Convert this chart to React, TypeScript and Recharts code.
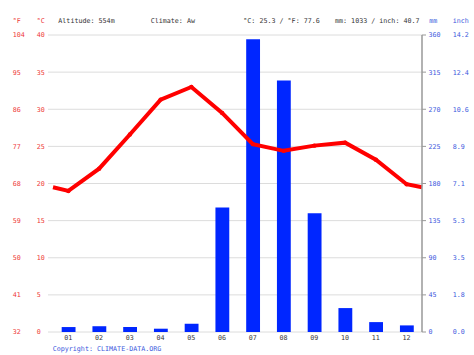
import React from 'react'
import { ComposedChart, Bar, Line, XAxis, YAxis, CartesianGrid } from 'recharts'

const MONTHS = ['01', '02', '03', '04', '05', '06', '07', '08', '09', '10', '11', '12']
const TEMP_C = [19.0, 22.0, 26.6, 31.3, 33.0, 29.5, 25.3, 24.4, 25.1, 25.5, 23.2, 19.9]
const PRECIP_MM = [6, 7, 6, 4, 10, 151, 355, 305, 144, 29, 12, 8]
// the curve runs on to both plot edges at this value
const EDGE_TEMP_C = 19.5

const C_TICKS = [0, 5, 10, 15, 20, 25, 30, 35, 40]
const F_LABELS = ['32', '41', '50', '59', '68', '77', '86', '95', '104']
const MM_TICKS = [0, 45, 90, 135, 180, 225, 270, 315, 360]
const INCH_LABELS = ['0.0', '1.8', '3.5', '5.3', '7.1', '8.9', '10.6', '12.4', '14.2']

const RED = '#ee3535'
const BLUE = '#3a58dd'
const FONT = "'DejaVu Sans Mono', monospace"
const FS = 6.7

const data = [
  { x: 0, temp: EDGE_TEMP_C },
  ...MONTHS.map((m, i) => ({ x: i + 0.5, month: m, temp: TEMP_C[i], precip: PRECIP_MM[i] })),
  { x: 12, temp: EDGE_TEMP_C },
]

function TempTick(props: any) {
  const { y, payload } = props
  const i = C_TICKS.indexOf(payload.value)
  return (
    <g fontFamily={FONT} fontSize={FS} fill={RED}>
      <text x={12.7} y={y} dy={2.4} textAnchor="start">{F_LABELS[i]}</text>
      <text x={36.7} y={y} dy={2.4} textAnchor="start">{payload.value}</text>
    </g>
  )
}

function PrecipTick(props: any) {
  const { y, payload } = props
  const i = MM_TICKS.indexOf(payload.value)
  return (
    <g fontFamily={FONT} fontSize={FS} fill={BLUE}>
      <text x={428.5} y={y} dy={2.4} textAnchor="start">{payload.value}</text>
      <text x={452.7} y={y} dy={2.4} textAnchor="start">{INCH_LABELS[i]}</text>
    </g>
  )
}

function TempDot(props: any) {
  const { cx, cy, payload, index } = props
  if (!payload.month) return <g key={index} />
  return <circle key={index} cx={cx} cy={cy} r={2.2} fill="#ff0000" />
}

const label = (left: number, text: string, color = '#333') => (
  <div
    style={{
      position: 'absolute',
      left,
      top: 16.5,
      fontFamily: FONT,
      fontSize: FS,
      color,
      whiteSpace: 'pre',
      lineHeight: '8px',
    }}
  >
    {text}
  </div>
)

export default function App() {
  return (
    <div style={{ position: 'absolute', left: 0, top: 0, width: 474, height: 355, background: '#fff' }}>
      <ComposedChart width={474} height={355} data={data} margin={{ top: 35, right: 0, left: 0, bottom: 13 }}>
        <CartesianGrid horizontal vertical={false} stroke="#dcdcdc" xAxisId="m" yAxisId="t" />
        <XAxis
          xAxisId="m"
          type="number"
          dataKey="x"
          domain={[0, 12]}
          ticks={[0, 1, 2, 3, 4, 5, 6, 7, 8, 9, 10, 11, 12]}
          tickFormatter={() => ''}
          height={0}
          tickSize={4}
          axisLine={{ stroke: '#999' }}
          tickLine={{ stroke: '#999' }}
        />
        <XAxis
          xAxisId="lbl"
          type="number"
          dataKey="x"
          domain={[0, 12]}
          ticks={[0.5, 1.5, 2.5, 3.5, 4.5, 5.5, 6.5, 7.5, 8.5, 9.5, 10.5, 11.5]}
          tickFormatter={(v: number) => MONTHS[Math.floor(v)]}
          height={10}
          tickSize={0}
          tickMargin={3}
          axisLine={false}
          tickLine={false}
          tick={{ fill: '#333', fontSize: FS, fontFamily: FONT }}
        />
        <YAxis
          yAxisId="t"
          domain={[0, 40]}
          ticks={C_TICKS}
          width={53}
          axisLine={false}
          tickSize={5}
          tickLine={{ stroke: '#dcdcdc' }}
          tick={<TempTick />}
        />
        <YAxis
          yAxisId="p"
          orientation="right"
          domain={[0, 360]}
          ticks={MM_TICKS}
          width={52}
          tickSize={4}
          axisLine={{ stroke: '#999', strokeWidth: 1.5 }}
          tickLine={{ stroke: '#999' }}
          tick={<PrecipTick />}
        />
        <Bar
          xAxisId="m"
          yAxisId="p"
          dataKey="precip"
          fill="#0026ff"
          barSize={16}
          isAnimationActive={false}
        />
        <Line
          xAxisId="m"
          yAxisId="t"
          dataKey="temp"
          type="linear"
          stroke="#ff0000"
          strokeWidth={4}
          dot={<TempDot />}
          activeDot={false}
          isAnimationActive={false}
        />
      </ComposedChart>
      {label(12.7, '°F', RED)}
      {label(36.7, '°C', RED)}
      {label(58.3, 'Altitude: 554m')}
      {label(150.7, 'Climate: Aw')}
      {label(243.3, '°C: 25.3 / °F: 77.6')}
      {label(335, 'mm: 1033 / inch: 40.7')}
      {label(429.3, 'mm', BLUE)}
      {label(452.7, 'inch', BLUE)}
      <div
        style={{
          position: 'absolute',
          left: 52.7,
          top: 344.5,
          fontFamily: FONT,
          fontSize: FS,
          color: BLUE,
          lineHeight: '8px',
          whiteSpace: 'pre',
        }}
      >
        Copyright: CLIMATE-DATA.ORG
      </div>
    </div>
  )
}
